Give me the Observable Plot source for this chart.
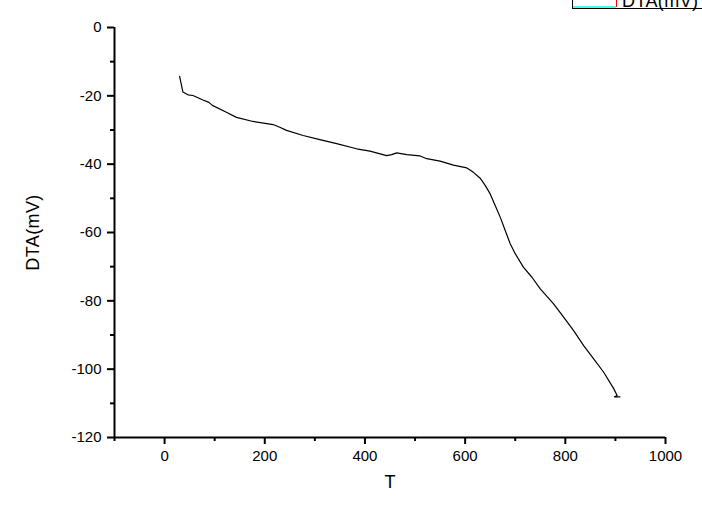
<!DOCTYPE html>
<html>
<head>
<meta charset="utf-8">
<script src="https://cdn.jsdelivr.net/npm/d3@7"></script>
<script src="https://cdn.jsdelivr.net/npm/@observablehq/plot@0.6"></script>
<style>
  html, body { margin: 0; padding: 0; background: white; overflow: hidden; }
</style>
</head>
<body>
<div id="chart"></div>
<script>
// Temperature T
const tValues = [30, 36.6, 46.6, 56.6, 76.6, 88.6, 95.4, 123.4, 143.4, 176.6, 216.6, 230, 243.4, 276.6, 310, 343.4, 383.4, 410, 443.4, 453.4, 463.4, 483.4, 510, 523.4, 550, 576.6, 603.4, 616.6, 630, 640, 650, 660, 670, 680, 690, 700, 716.6, 733.4, 750, 776.6, 796.6, 816.6, 836.6, 856.6, 876.6, 896.6, 903.4, 898, 909];
// DTA (mV)
const dtaValues = [-14.3, -18.9, -19.7, -19.9, -21.2, -21.9, -22.8, -24.8, -26.3, -27.5, -28.4, -29.2, -30.1, -31.6, -32.8, -34.0, -35.5, -36.2, -37.5, -37.2, -36.7, -37.2, -37.6, -38.4, -39.1, -40.3, -41.1, -42.4, -44.1, -46.2, -48.7, -52.1, -55.5, -59.4, -63.3, -66.2, -70.2, -73.1, -76.5, -80.9, -84.8, -88.7, -93.1, -97.0, -100.9, -105.7, -107.7, -108.1, -108.1];

const xMajorTicks = [0, 200, 400, 600, 800, 1000];
const xMinorTicks = [-100, 100, 300, 500, 700, 900];
const yMajorTicks = [0, -20, -40, -60, -80, -100, -120];
const yMinorTicks = [-10, -30, -50, -70, -90, -110];

const xLabel = "T";
const yLabel = "DTA(mV)";
const seriesName = "DTA(mV)";

const data = tValues.map((t, i) => ({t, v: dtaValues[i]}));

const FONT = "'Liberation Sans', Arial, sans-serif";

const chart = Plot.plot({
  width: 702,
  height: 506,
  marginLeft: 114,
  marginRight: 37,
  marginTop: 27,
  marginBottom: 69,
  style: {fontFamily: FONT, fontSize: "15px", background: "white", color: "black"},
  x: {domain: [-100, 1000]},
  y: {domain: [-120, 0]},
  marks: [
    Plot.axisX({ticks: xMajorTicks, tickSize: 7, tickPadding: 6, strokeWidth: 2, tickFormat: d => `${d}`, label: null, fontSize: 15}),
    Plot.axisX({ticks: xMinorTicks, tickSize: 4, strokeWidth: 2, tickFormat: null, text: null, label: null}),
    Plot.axisY({ticks: yMajorTicks, tickSize: 7, tickPadding: 6, strokeWidth: 2, tickFormat: d => `${d}`, label: null, fontSize: 15}),
    Plot.axisY({ticks: yMinorTicks, tickSize: 4, strokeWidth: 2, tickFormat: null, text: null, label: null}),
    Plot.ruleY([-120], {stroke: "black", strokeWidth: 2}),
    Plot.ruleX([-100], {stroke: "black", strokeWidth: 2}),
    Plot.line(data, {x: "t", y: "v", stroke: "black", strokeWidth: 1.2}),
    Plot.text([xLabel], {frameAnchor: "bottom", dy: 50, fontSize: 18, fontFamily: FONT, fill: "black"}),
    Plot.text([yLabel], {frameAnchor: "left", dx: -81, rotate: -90, textAnchor: "middle", fontSize: 18, fontFamily: FONT, fill: "black"})
  ]
});

document.getElementById("chart").appendChild(chart);

const svg = d3.select(chart);
svg.selectAll("text").filter(function() { return this.textContent === yLabel; })
  .style("letter-spacing", "0.4px");

// Legend (cropped at the top of the figure, as in the reference)
const lg = svg.append("g").attr("class", "legend");
lg.append("line").attr("x1", 572.5).attr("y1", 0).attr("x2", 572.5).attr("y2", 8.5).attr("stroke", "black");
lg.append("line").attr("x1", 572).attr("y1", 8.5).attr("x2", 702).attr("y2", 8.5).attr("stroke", "black");
lg.append("line").attr("x1", 573).attr("y1", 7).attr("x2", 616).attr("y2", 7).attr("stroke", "#00ffff").attr("stroke-width", 1.5);
lg.append("line").attr("x1", 616.5).attr("y1", 0).attr("x2", 616.5).attr("y2", 7).attr("stroke", "red");
lg.append("text").attr("x", 622).attr("y", 6.5).attr("fill", "black").attr("text-anchor", "start")
  .style("font-family", FONT).style("font-size", "18px").style("letter-spacing", "0.4px")
  .text(seriesName);
</script>
</body>
</html>
